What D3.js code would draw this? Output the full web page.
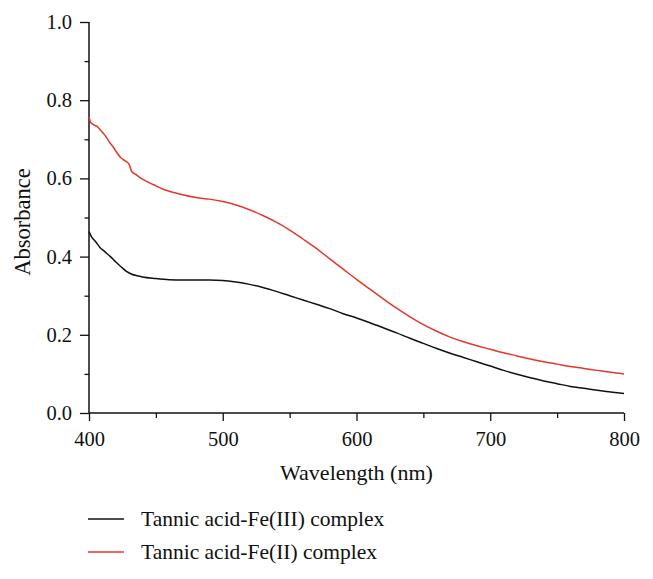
<!DOCTYPE html>
<html><head><meta charset="utf-8">
<script src="https://cdn.jsdelivr.net/npm/d3@7"></script>
<style>body{margin:0;background:#fff}svg{display:block}svg text{fill:#111}</style>
</head><body>
<script>
const wlFe3 = [400,402,405,408,412,416,420,424,428,432,436,440,450,460,470,480,490,500,510,520,530,540,550,560,570,580,590,600,610,620,630,640,650,660,670,680,690,700,710,720,730,740,750,760,770,780,790,800];
const absFe3 = [0.464,0.450,0.438,0.424,0.412,0.400,0.386,0.374,0.362,0.355,0.351,0.348,0.344,0.341,0.340,0.340,0.340,0.339,0.335,0.329,0.321,0.311,0.300,0.289,0.278,0.267,0.254,0.243,0.231,0.218,0.205,0.191,0.178,0.165,0.153,0.142,0.131,0.120,0.109,0.099,0.090,0.082,0.075,0.068,0.063,0.058,0.054,0.050];
const wlFe2 = [400,401,403,406,409,412,415,418,421,424,427,430,432,435,440,445,450,455,460,470,480,490,500,510,520,530,540,550,560,570,580,590,600,610,620,630,640,650,660,670,680,690,700,710,720,730,740,750,760,770,780,790,800];
const absFe2 = [0.758,0.745,0.738,0.733,0.722,0.710,0.694,0.681,0.665,0.652,0.645,0.636,0.617,0.610,0.598,0.589,0.581,0.573,0.567,0.558,0.551,0.547,0.541,0.532,0.520,0.505,0.488,0.468,0.445,0.421,0.394,0.368,0.342,0.317,0.292,0.268,0.246,0.226,0.209,0.194,0.182,0.172,0.163,0.154,0.146,0.138,0.131,0.125,0.119,0.114,0.109,0.104,0.100];
const seriesNames = ["Tannic acid-Fe(III) complex","Tannic acid-Fe(II) complex"];
const seriesColors = ["#111111","#e8352b"];
const xTicks = [400,500,600,700,800];
const yTicks = [0.0,0.2,0.4,0.6,0.8,1.0];

const FONT='"Liberation Serif","DejaVu Serif","Noto Serif","Times New Roman",Times,serif';
const W=653,H=579;
const svg=d3.select("body").append("svg").attr("width",W).attr("height",H);
const x=d3.scaleLinear().domain([400,800]).range([89,624]);
const y=d3.scaleLinear().domain([0,1]).range([413,22]);

svg.append("g").attr("transform","translate(89,0)")
  .call(d3.axisLeft(y).tickValues([0.1,0.3,0.5,0.7,0.9]).tickSize(4.5).tickFormat(""))
  .call(g=>g.select(".domain").remove()).selectAll("line").attr("stroke","#111").attr("stroke-width",1.3);
svg.append("g").attr("transform","translate(0,413)")
  .call(d3.axisBottom(x).tickValues([450,550,650,750]).tickSize(5).tickFormat(""))
  .call(g=>g.select(".domain").remove()).selectAll("line").attr("stroke","#111").attr("stroke-width",1.3);

const ya=svg.append("g").attr("transform","translate(89,0)")
  .call(d3.axisLeft(y).tickValues(yTicks).tickSize(9).tickSizeOuter(0).tickPadding(8).tickFormat(d3.format(".1f")));
const xa=svg.append("g").attr("transform","translate(0,413)")
  .call(d3.axisBottom(x).tickValues(xTicks).tickSize(8).tickSizeOuter(0).tickPadding(10).tickFormat(d3.format("d")));
[ya,xa].forEach(a=>{
  a.attr("font-family",FONT).attr("font-size",20.5);
  a.select(".domain").attr("stroke","#111").attr("stroke-width",1.5);
  a.selectAll(".tick line").attr("stroke","#111").attr("stroke-width",1.3);
  a.selectAll(".tick text").attr("fill","#111");
});
ya.select(".domain").attr("d","M0,413V22");
xa.select(".domain").attr("d","M89,0H624");

const line=d3.line().x(d=>x(d[0])).y(d=>y(d[1])).curve(d3.curveMonotoneX);
const data=[d3.zip(wlFe3,absFe3), d3.zip(wlFe2,absFe2)];
data.forEach((d,i)=>{
  svg.append("path").datum(d).attr("d",line).attr("fill","none")
    .attr("stroke",seriesColors[i]).attr("stroke-width",1.5).attr("stroke-linejoin","round");
});

svg.append("text").attr("x",356.5).attr("y",480).attr("text-anchor","middle").attr("font-family",FONT).attr("font-size",22).text("Wavelength (nm)");
svg.append("text").attr("transform","translate(30,222) rotate(-90)").attr("text-anchor","middle").attr("font-family",FONT).attr("font-size",22.5).text("Absorbance");

seriesNames.forEach((n,i)=>{
  const yy=519+i*33;
  svg.append("line").attr("x1",88).attr("x2",124).attr("y1",yy).attr("y2",yy).attr("stroke",seriesColors[i]).attr("stroke-width",1.5);
  svg.append("text").attr("x",141).attr("y",yy+7).attr("font-family",FONT).attr("font-size",21.5).text(n);
});
</script>
</body></html>
